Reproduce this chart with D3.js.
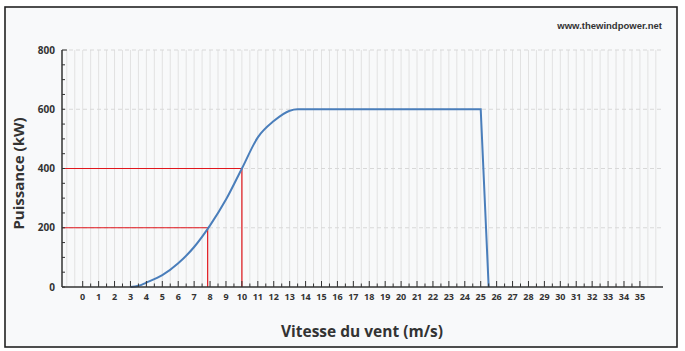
<!DOCTYPE html>
<html>
<head>
<meta charset="utf-8">
<script src="https://cdn.jsdelivr.net/npm/d3@7"></script>
<style>
  body { margin: 0; background: #fff; }
  svg { display: block; }
</style>
</head>
<body>
<svg id="chart"></svg>
<script>
// power curve
const windSpeed = [3, 3.5, 4, 5, 6, 7, 8, 9, 10, 11, 12, 13, 13.5, 25, 25.5];
const power = [0, 4, 15, 40, 80, 135, 208, 295, 400, 505, 560, 595, 600, 600, 0];
// red reading lines
const readSpeed = [7.85, 10];
const readPower = [200, 400];
// axes
const xTickLabels = d3.range(0, 36);
const yTickLabels = [0, 200, 400, 600, 800];

const width = 685, height = 351;
const svg = d3.select("#chart").attr("width", width).attr("height", height);

const x = d3.scaleLinear().domain([-1.3, 36.45]).range([62, 663]);
const y = d3.scaleLinear().domain([0, 800]).range([287, 50]);

// frame
svg.append("rect")
    .attr("x", 5).attr("y", 7).attr("width", 672).attr("height", 340)
    .attr("fill", "#f8f9fa").attr("stroke", "#222").attr("stroke-width", 1.6);

// grid
const grid = svg.append("g");
grid.selectAll("line.v")
    .data(d3.range(-1, 36.5, 0.5))
    .join("line")
    .attr("x1", d => x(d)).attr("x2", d => x(d))
    .attr("y1", y(800)).attr("y2", y(0))
    .attr("stroke", "#e2e2e2").attr("stroke-width", 1);
grid.selectAll("line.h")
    .data(yTickLabels.slice(1))
    .join("line")
    .attr("x1", x.range()[0]).attr("x2", x.range()[1])
    .attr("y1", d => y(d)).attr("y2", d => y(d))
    .attr("stroke", "#d8d8d8").attr("stroke-dasharray", "4,3");

// red reading lines
const red = svg.append("g").attr("stroke", "#e0161c").attr("stroke-width", 1.2).attr("fill", "none");
readSpeed.forEach((s, i) => {
    red.append("path")
        .attr("d", `M${x.range()[0]},${y(readPower[i])}H${x(s)}V${y(0)}`);
});

// power curve: smooth rise, straight cut-out
const smooth = d3.line().x(d => x(d[0])).y(d => y(d[1])).curve(d3.curveMonotoneX);
const pts = windSpeed.map((s, i) => [s, power[i]]);
const last = pts[pts.length - 1];
svg.append("path")
    .attr("d", smooth(pts.slice(0, -1)) + `L${x(last[0])},${y(last[1])}`)
    .attr("fill", "none").attr("stroke", "#4a7ebb").attr("stroke-width", 2);

// x axis
const xAxis = svg.append("g");
xAxis.append("line")
    .attr("x1", x.range()[0]).attr("x2", x.range()[1])
    .attr("y1", y(0)).attr("y2", y(0))
    .attr("stroke", "#333").attr("stroke-width", 1.5);
xAxis.selectAll("line.t")
    .data(d3.range(0, 35.5, 0.5))
    .join("line")
    .attr("x1", d => x(d)).attr("x2", d => x(d))
    .attr("y1", y(0)).attr("y2", d => y(0) - (d % 1 === 0 ? 6 : 3.5))
    .attr("stroke", "#333").attr("stroke-width", 1);
xAxis.selectAll("text")
    .data(xTickLabels)
    .join("text")
    .attr("x", d => x(d)).attr("y", 300)
    .attr("text-anchor", "middle")
    .attr("font-family", "Open Sans, sans-serif").attr("font-weight", "bold")
    .attr("font-size", 9).attr("fill", "#333")
    .text(d => d);

// y axis
const yAxis = svg.append("g");
yAxis.append("line")
    .attr("x1", x.range()[0]).attr("x2", x.range()[0])
    .attr("y1", y(800)).attr("y2", y(0))
    .attr("stroke", "#333").attr("stroke-width", 1.5);
yAxis.selectAll("line.t")
    .data(d3.range(0, 850, 50))
    .join("line")
    .attr("x1", x.range()[0]).attr("x2", d => x.range()[0] + (d === 800 ? 5 : 3))
    .attr("y1", d => y(d)).attr("y2", d => y(d))
    .attr("stroke", "#333").attr("stroke-width", 1);
yAxis.selectAll("text")
    .data(yTickLabels)
    .join("text")
    .attr("x", 55).attr("y", d => y(d) + 3.5)
    .attr("text-anchor", "end")
    .attr("font-family", "Open Sans, sans-serif").attr("font-weight", "bold")
    .attr("font-size", 10).attr("fill", "#333")
    .text(d => d);

// titles
svg.append("text")
    .attr("transform", `translate(24,${(y(0) + y(800)) / 2 + 5}) rotate(-90)`)
    .attr("text-anchor", "middle")
    .attr("font-family", "Open Sans, sans-serif").attr("font-weight", "bold")
    .attr("font-size", 15).attr("fill", "#333")
    .text("Puissance (kW)");

svg.append("text")
    .attr("x", 362).attr("y", 337)
    .attr("text-anchor", "middle")
    .attr("font-family", "Open Sans, sans-serif").attr("font-weight", "bold")
    .attr("font-size", 15.5).attr("fill", "#333")
    .text("Vitesse du vent (m/s)");

svg.append("text")
    .attr("x", 662).attr("y", 29)
    .attr("text-anchor", "end")
    .attr("font-family", "Liberation Sans Narrow, Liberation Sans, sans-serif").attr("font-weight", "bold")
    .attr("font-size", 9.5).attr("fill", "#333")
    .text("www.thewindpower.net");
</script>
</body>
</html>
